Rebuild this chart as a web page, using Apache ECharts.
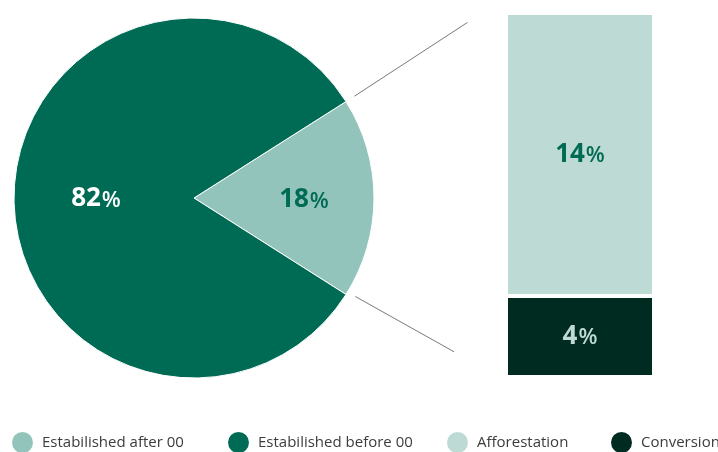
<!DOCTYPE html>
<html><head><meta charset="utf-8">
<script src="https://cdn.jsdelivr.net/npm/echarts@6/dist/echarts.min.js"></script>
<style>html,body{margin:0;padding:0;background:#fff}#chart{width:718px;height:452px}</style>
</head><body><div id="chart"></div>
<script>
// Share of stands: pie split, with the smaller slice broken down in the stacked bar
const pieNames = ['Estabilished after 00', 'Estabilished before 00'];
const pieValues = [18, 82];
const barNames = ['Afforestation', 'Conversion'];
const barValues = [14, 4];
const legendNames = ['Estabilished after 00', 'Estabilished before 00', 'Afforestation', 'Conversion'];

const FONT = 'Open Sans';
const C = {
  after: '#93C4BC',
  before: '#006B54',
  affor: '#BEDAD4',
  conv: '#002B20'
};

const pieCenter = [194, 198];
const pieRadius = 180;
// half-angle of the exploded slice, which is centred on the horizontal
const half = pieValues[0] / (pieValues[0] + pieValues[1]) * 360 / 2;

function polar(r, deg) {
  const a = deg * Math.PI / 180;
  return [pieCenter[0] + r * Math.cos(a), pieCenter[1] - r * Math.sin(a)];
}
const up0 = polar(190, half), up1 = polar(325, half + 0.3);
const dn0 = polar(189, -half + 1), dn1 = polar(302, -half + 1.8);

function rich(numColor) {
  return {
    n: { fontFamily: FONT, fontSize: 26, fontWeight: 'bold', color: numColor },
    p: { fontFamily: FONT, fontSize: 22, fontWeight: 600, color: numColor, padding: [3, 0, 0, 1] }
  };
}

const chart = echarts.init(document.getElementById('chart'), null, { renderer: 'canvas' });

const legendX = [12, 228, 447, 611];
const legends = legendNames.map((name, i) => ({
  data: [name],
  left: legendX[i],
  top: 432,
  padding: 0,
  icon: 'circle',
  itemWidth: 21,
  itemHeight: 21,
  itemGap: 0,
  selectedMode: false,
  itemStyle: { borderWidth: 0 },
  textStyle: { fontFamily: FONT, fontSize: 15, color: '#3c3c3c', padding: [0, 0, 0, 4] }
}));

chart.setOption({
  animation: false,
  backgroundColor: '#fff',
  legend: legends,
  grid: { left: 506, top: 13, width: 148, height: 364 },
  xAxis: { type: 'category', data: ['x'], show: false },
  yAxis: { type: 'value', min: 0, max: barValues[0] + barValues[1], show: false },
  series: [
    {
      type: 'pie',
      center: pieCenter,
      radius: pieRadius,
      startAngle: half,
      clockwise: true,
      itemStyle: { borderColor: '#fff', borderWidth: 1 },
      label: { position: 'inside', formatter: '{n|{c}}{p|%}' },
      labelLine: { show: false },
      emphasis: { disabled: true },
      data: [
        { name: pieNames[0], value: pieValues[0], itemStyle: { color: C.after },
          label: { rich: rich(C.before), offset: [17, 2] } },
        { name: pieNames[1], value: pieValues[1], itemStyle: { color: C.before },
          label: { rich: rich('#fff'), offset: [-5, 1] } }
      ]
    },
    {
      type: 'bar',
      name: barNames[1],
      stack: 'split',
      barWidth: '100%',
      data: [barValues[1]],
      itemStyle: { color: C.conv, borderColor: '#fff', borderWidth: 2 },
      label: { show: true, position: 'inside', formatter: '{n|{c}}{p|%}', rich: rich(C.affor) },
      emphasis: { disabled: true }
    },
    {
      type: 'bar',
      name: barNames[0],
      stack: 'split',
      barWidth: '100%',
      data: [barValues[0]],
      itemStyle: { color: C.affor, borderColor: '#fff', borderWidth: 2 },
      label: { show: true, position: 'inside', formatter: '{n|{c}}{p|%}', rich: rich(C.before) },
      emphasis: { disabled: true }
    }
  ],
  graphic: [
    { type: 'line', shape: { x1: up0[0], y1: up0[1], x2: up1[0], y2: up1[1] },
      style: { stroke: '#7a7a7a', lineWidth: 1 } },
    { type: 'line', shape: { x1: dn0[0], y1: dn0[1], x2: dn1[0], y2: dn1[1] },
      style: { stroke: '#7a7a7a', lineWidth: 1 } }
  ]
});
</script></body></html>
